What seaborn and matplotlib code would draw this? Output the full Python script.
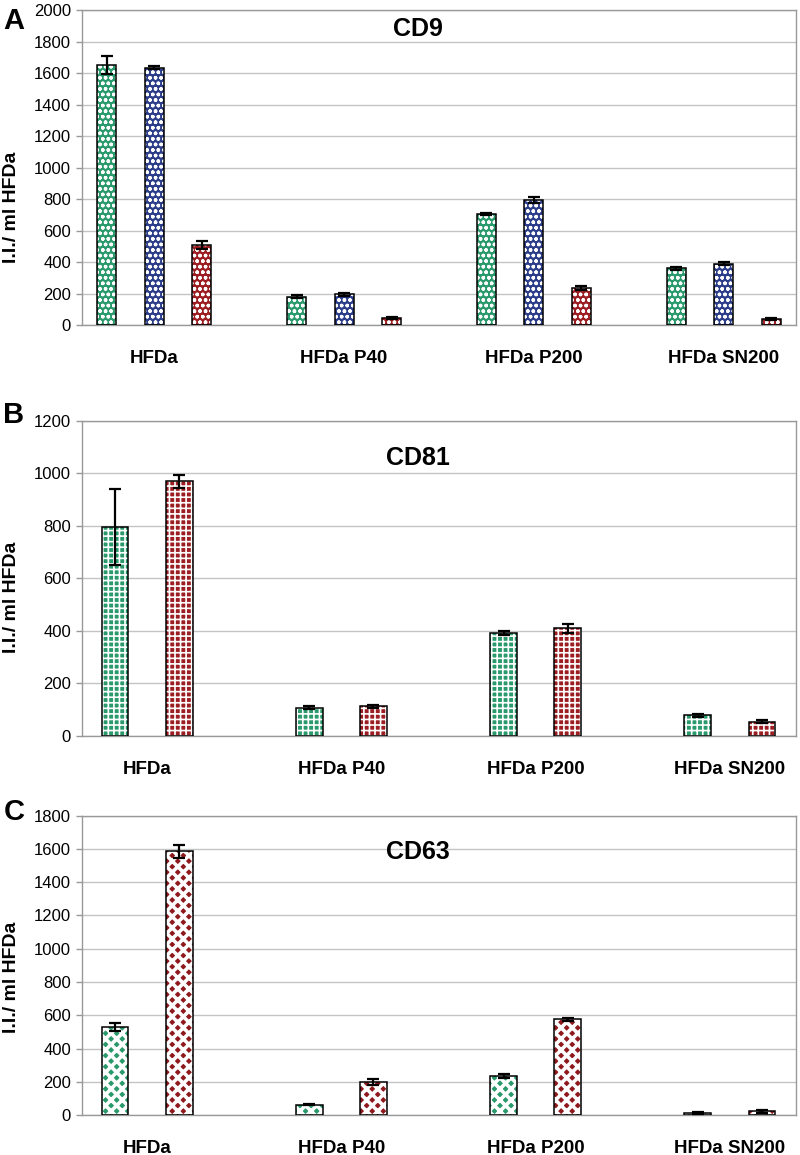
import numpy as np
import pandas as pd
import matplotlib.pyplot as plt
import seaborn as sns
from matplotlib.patches import Rectangle

# -----------------------------
# Data
# -----------------------------
groups = ["HFDa", "HFDa P40", "HFDa P200", "HFDa SN200"]

# Panel A - CD9 (three series)
cd9_green = [1650, 180, 705, 360]
cd9_green_err = [58, 10, 5, 10]
cd9_blue = [1635, 195, 795, 390]
cd9_blue_err = [10, 10, 20, 10]
cd9_red = [510, 45, 235, 40]
cd9_red_err = [25, 8, 10, 5]

# Panel B - CD81
cd81_green = [795, 108, 392, 78]
cd81_green_err = [143, 5, 8, 5]
cd81_red = [970, 113, 410, 55]
cd81_red_err = [25, 5, 17, 4]

# Panel C - CD63
cd63_green = [530, 62, 234, 12]
cd63_green_err = [25, 4, 14, 4]
cd63_red = [1585, 200, 576, 22]
cd63_red_err = [38, 17, 8, 7]

GREEN = "#2a9a6c"
BLUE = "#2c3d8a"
RED = "#9c1d22"

sns.set_style("white")
plt.rcParams["font.family"] = ["Liberation Sans", "DejaVu Sans"]
for key in ["text.color", "axes.labelcolor", "xtick.color", "ytick.color"]:
    plt.rcParams[key] = "black"

# pattern per panel: hatch string and white line width
patterns = {"dots": ("ooo", 1.0), "check": ("+++", 1.2), "diamond": ("xxx", 2.6)}


def make_panel(ax, series, errs, colors, style, width, gap, ymax, title, xlim):
    n = len(series)
    df = pd.DataFrame({
        "group": np.tile(groups, n),
        "series": np.repeat(np.arange(n), len(groups)),
        "value": np.concatenate(series),
    })
    sns.barplot(data=df, x="group", y="value", hue="series", palette=colors,
                width=width, gap=gap, errorbar=None, legend=False, ax=ax,
                linewidth=0, zorder=2)

    hatch, hlw = patterns[style]
    bar_sets = list(ax.containers)
    for i, cont in enumerate(bar_sets):
        for bar, e in zip(cont, errs[i]):
            bar.set_hatch(hatch)
            bar.set_facecolor(colors[i])
            bar.set_edgecolor("white")
            bar.set_linewidth(0)
            if hasattr(bar, "set_hatch_linewidth"):
                bar.set_hatch_linewidth(hlw)
            x0, w, h = bar.get_x(), bar.get_width(), bar.get_height()
            ax.add_patch(Rectangle((x0, 0), w, h, fill=False, edgecolor="black",
                                   linewidth=1.1, zorder=3))
            ax.errorbar(x0 + w / 2, h, yerr=e, color="black", lw=1.6,
                        capsize=4, capthick=1.6, zorder=4)

    ax.set_ylim(0, ymax)
    ax.set_xlim(*xlim)
    ax.set_yticks(np.arange(0, ymax + 1, 200))
    ax.yaxis.grid(True, color="#c4c4c4", lw=1.0)
    ax.set_axisbelow(True)
    for s in ax.spines.values():
        s.set_color("#999999")
        s.set_linewidth(1.0)
    ax.tick_params(axis="y", left=True, length=4, width=1, color="#999999",
                   labelcolor="black", labelsize=12, pad=4)
    ax.tick_params(axis="x", length=0, pad=18, labelcolor="black")
    for lab in ax.get_xticklabels():
        lab.set_fontweight("bold")
        lab.set_fontsize(13.5)
    ax.set_xlabel("")
    ax.set_ylabel("I.I./ ml HFDa", fontsize=14, fontweight="bold", color="black")
    ax.text(0.47, 0.94 if ymax == 2000 else 0.88, title, transform=ax.transAxes,
            ha="center", va="center", fontsize=18, fontweight="bold", color="black")


fig = plt.figure(figsize=(8, 11.55), dpi=100)
axA = fig.add_axes([0.1025, 0.7186, 0.8925, 0.2727])
axB = fig.add_axes([0.1025, 0.3628, 0.8925, 0.2730])
axC = fig.add_axes([0.1025, 0.0346, 0.8925, 0.2592])

make_panel(axA, [cd9_green, cd9_blue, cd9_red],
           [cd9_green_err, cd9_blue_err, cd9_red_err],
           [GREEN, BLUE, RED], "dots", 0.75, 0.6, 2000, "CD9", (-0.379, 3.379))
make_panel(axB, [cd81_green, cd81_red], [cd81_green_err, cd81_red_err],
           [GREEN, RED], "check", 0.66, 0.58, 1200, "CD81", (-0.335, 3.34))
make_panel(axC, [cd63_green, cd63_red], [cd63_green_err, cd63_red_err],
           [GREEN, "#8e1a1e"], "diamond", 0.66, 0.58, 1800, "CD63", (-0.335, 3.34))

axA.yaxis.set_label_coords(-0.087, 0.375)
axB.yaxis.set_label_coords(-0.087, 0.44)
axC.yaxis.set_label_coords(-0.087, 0.46)

# panel letters
for letter, ypx in [("A", 21), ("B", 415), ("C", 812)]:
    fig.text(14 / 800, 1 - ypx / 1155, letter, fontsize=21, fontweight="bold",
             ha="center", va="center", color="black")

fig.savefig("out.png", dpi=100)
